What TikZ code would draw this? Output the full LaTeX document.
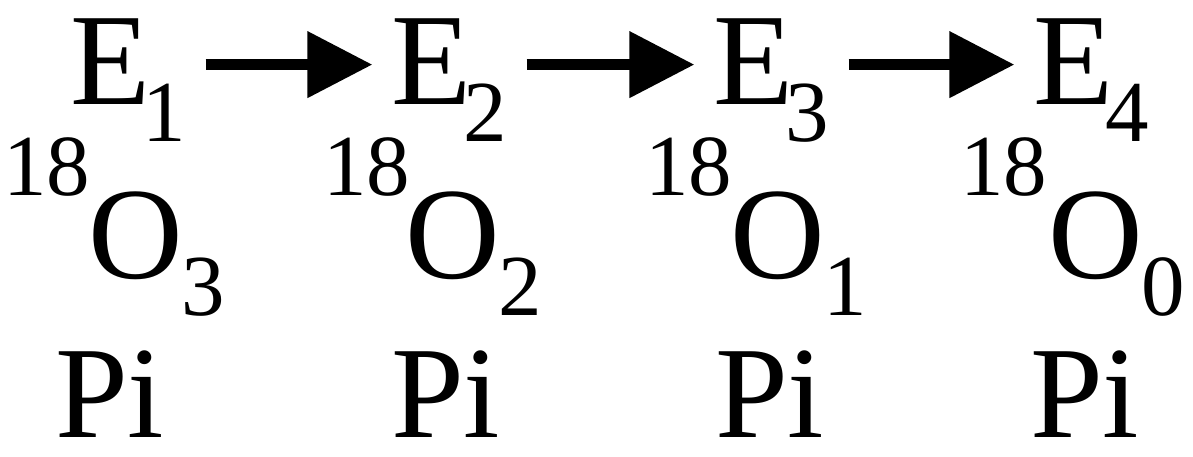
\documentclass[tikz,border=0pt]{standalone}
\usepackage{fontspec}
\newfontfamily\tms{Liberation Serif}
\usetikzlibrary{arrows.meta}
\tikzset{
  big/.style={font=\tms\fontsize{131}{131}\selectfont, inner sep=0pt, outer sep=0pt, anchor=base west},
  small/.style={font=\tms\fontsize{87}{87}\selectfont, inner sep=0pt, outer sep=0pt, anchor=base west},
  arr/.style={line width=11pt, -{Triangle[length=65pt,width=64pt]}, shorten <=20pt, shorten >=19pt}
}
\begin{document}
\begin{tikzpicture}[x=1pt,y=-1pt]
\useasboundingbox (0,0) rectangle (1193,457);
\foreach \i/\o/\xe/\xi/\xO/\xp in {1/3/72/13/93/57, 2/2/393/333/410/393, 3/1/715/655/735/717, 4/0/1035/970/1053/1032}{
  \node[big]   (E\i)   at (\xe-1.6,105) {E};
  \node[small] (eS\i)  at (\xe+70,142) {\i};
  \node[small] (iso\i) at (\xi-9.7,195) {18};
  \node[big]   (O\i)   at (\xO-4.5,278) {O};
  \node[small] (oS\i)  at (\xO+88,315) {\o};
  \node[big]   (Pi\i)  at (\xp-2,437) {Pi};
}
\foreach \i/\j in {1/2,2/3,3/4}{
  \draw[arr] ([yshift=-2.5pt]eS\i.east |- E\i.center) -- ([yshift=-2.5pt]E\j.west);
}
\end{tikzpicture}
\end{document}
